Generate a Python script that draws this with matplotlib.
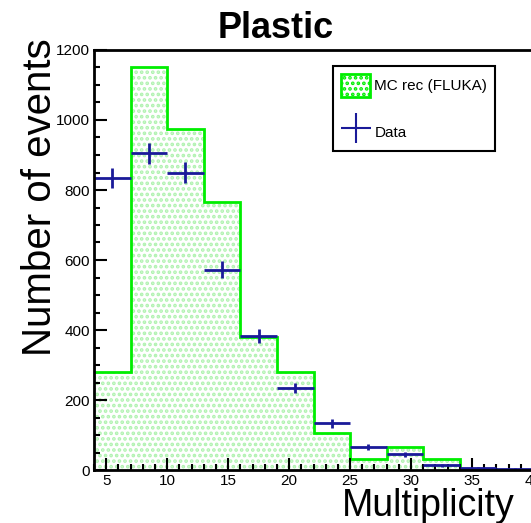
import numpy as np
import matplotlib
matplotlib.use('Agg')
import matplotlib.pyplot as plt
from matplotlib.ticker import MultipleLocator
from matplotlib.patches import Patch
from matplotlib.lines import Line2D

plt.rcParams['font.family'] = ['Liberation Sans', 'DejaVu Sans']
plt.rcParams['hatch.linewidth'] = 1.8

# histogram bins (multiplicity)
bin_edges = [4, 7, 10, 13, 16, 19, 22, 25, 28, 31, 34, 37, 40]
mc_counts = [280, 1150, 975, 765, 380, 280, 105, 32, 65, 32, 4, 1]
data_counts = [835, 905, 850, 572, 382, 235, 133, 65, 45, 14, 7, 4]
data_err = [29, 30, 29, 24, 20, 15, 12, 8, 7, 4, 3, 2]

edges = np.array(bin_edges, dtype=float)
centers = 0.5 * (edges[:-1] + edges[1:])
half_w = 0.5 * (edges[1:] - edges[:-1])

W, H = 531, 523
fig = plt.figure(figsize=(W / 100, H / 100), dpi=100)
ax = fig.add_axes([94 / W, 53 / H, 439 / W, 420 / H])

green = '#00ee00'
dots = '#b0f2b0'
blue = '#1a1a99'
ax.stairs(mc_counts, edges, fill=True, facecolor='white', edgecolor=dots,
          hatch='...', linewidth=0)
ax.stairs(mc_counts, edges, color=green, linewidth=2, baseline=None)
ax.errorbar(centers, data_counts, xerr=half_w, yerr=data_err, fmt='none',
            ecolor=blue, elinewidth=2, capsize=0)

ax.set_xlim(4, 40)
ax.set_ylim(0, 1200)
ax.xaxis.set_major_locator(MultipleLocator(5))
ax.xaxis.set_minor_locator(MultipleLocator(1))
ax.yaxis.set_major_locator(MultipleLocator(200))
ax.yaxis.set_minor_locator(MultipleLocator(50))
ax.tick_params(which='both', direction='in', top=False, right=False, width=1.5)
ax.tick_params(which='major', length=9, labelsize=11, pad=3)
ax.tick_params(which='minor', length=4.5)
for s in ax.spines.values():
    s.set_linewidth(2)

fig.text(276 / W, 1 - 38 / H, 'Plastic', fontsize=26, fontweight='bold',
         ha='center', va='baseline')
fig.text(515 / W, 1 - 516 / H, 'Multiplicity', fontsize=27, ha='right',
         va='baseline')
fig.text(40 / W, 1 - 38 / H, 'Number of events', fontsize=29, rotation=90,
         ha='center', va='top')

handles = [Patch(facecolor='white', edgecolor=green, hatch='...', linewidth=2),
           Line2D([], [], color=blue, marker='+', markersize=22,
                  markeredgewidth=1.5, linestyle='none')]
leg = ax.legend(handles, ['MC rec (FLUKA)', 'Data'], loc='upper left',
                bbox_to_anchor=(333 / W, 1 - 66 / H),
                bbox_transform=fig.transFigure, fontsize=11, fancybox=False,
                edgecolor='black', framealpha=1, borderpad=0.5,
                labelspacing=1.5, handlelength=1.95, handleheight=2.0,
                handletextpad=0.25, borderaxespad=0)
leg.get_frame().set_linewidth(1.5)

fig.savefig('out.png', dpi=100)
